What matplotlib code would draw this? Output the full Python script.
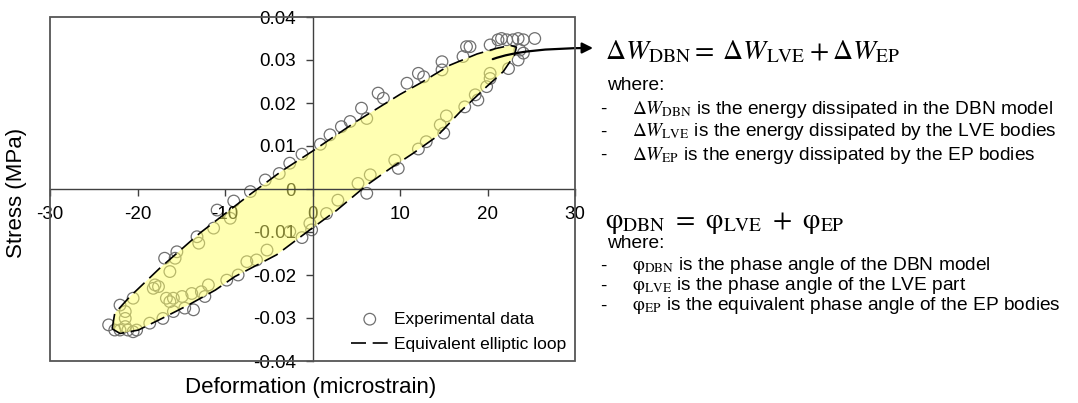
import matplotlib
matplotlib.use("Agg")
import matplotlib.pyplot as plt
from matplotlib.patches import Rectangle

plt.rcParams["font.family"] = ["Liberation Sans", "DejaVu Sans"]
plt.rcParams["mathtext.fontset"] = "stix"
plt.rcParams["axes.unicode_minus"] = False

exp_strain = [
    -23.3, -22.6, -22.0, -21.4, -21.1, -20.5, -20.1, -21.4, -21.4, -22.0,
    -20.5, -18.2, -18.0, -17.6, -16.3, -16.9, -15.7, -15.5, -13.2, -13.0,
    -11.3, -10.9, -9.4, -9.0, -7.1, -5.4, -3.8, -2.6, -1.2, 0.9,
    2.0, 3.3, 4.3, 5.6, 6.2, 7.5, 8.1, 10.8, 12.1, 12.7,
    14.8, 14.8, 17.2, 17.6, 18.0, 20.3, 21.2, 21.6, 22.2, 22.9,
    23.5, 24.1, 25.4, 23.7, 24.1, 23.5, 22.4,
    20.3, 20.3, 19.9, 18.6, 18.9, 17.4, 15.3, 14.6, 15.0, 13.0,
    12.1, 9.4, 9.8, 6.6, 5.2, 6.2, 2.9, 1.6, -0.3, -0.1,
    -1.2, -2.6, -5.2, -6.4, -7.5, -8.5, -9.8, -11.9, -12.7, -12.3,
    -13.8, -14.9, -15.9, -16.3, -16.7, -13.6, -14.6, -15.9, -17.1, -18.6,
]
exp_stress = [
    -0.0316, -0.0328, -0.0328, -0.0320, -0.0328, -0.0332, -0.0328, -0.0301, -0.0285, -0.0270,
    -0.0254, -0.0231, -0.0223, -0.0227, -0.0192, -0.0161, -0.0161, -0.0146, -0.0111, -0.0126,
    -0.0091, -0.0049, -0.0068, -0.0028, -0.0006, 0.0021, 0.0036, 0.0060, 0.0081, 0.0104,
    0.0126, 0.0145, 0.0157, 0.0188, 0.0164, 0.0223, 0.0211, 0.0246, 0.0269, 0.0261,
    0.0296, 0.0277, 0.0308, 0.0331, 0.0331, 0.0335, 0.0347, 0.0350, 0.0347, 0.0347,
    0.0350, 0.0347, 0.0350, 0.0323, 0.0316, 0.0300, 0.0280,
    0.0269, 0.0257, 0.0238, 0.0219, 0.0207, 0.0191, 0.0170, 0.0149, 0.0130, 0.0110,
    0.0093, 0.0067, 0.0048, 0.0033, 0.0013, -0.0010, -0.0026, -0.0057, -0.0080, -0.0095,
    -0.0113, -0.0099, -0.0142, -0.0165, -0.0169, -0.0200, -0.0212, -0.0223, -0.0239, -0.0250,
    -0.0243, -0.0250, -0.0254, -0.0262, -0.0254, -0.0281, -0.0277, -0.0285, -0.0301, -0.0312,
]

# equivalent elliptic loop
loop_strain = [
    -22.9, -22.6, -20.9, -17.5, -12.9, -7.1, -3.5, 0.0, 5.0, 10.0,
    12.3, 15.7, 18.8, 21.0, 22.6, 23.3, 23.1, 21.8, 19.9, 16.9,
    14.2, 11.5, 8.9, 6.2, 2.8, -0.3, -4.1, -8.9, -11.1, -14.2,
    -17.2, -19.9, -22.0, -22.9,
]
loop_stress = [
    -0.0325, -0.0289, -0.0251, -0.0185, -0.0103, -0.0012, 0.0042, 0.0088, 0.0157, 0.0220,
    0.0246, 0.0288, 0.0314, 0.0327, 0.0334, 0.0330, 0.0312, 0.0273, 0.0238, 0.0180,
    0.0122, 0.0083, 0.0048, 0.0009, -0.0049, -0.0095, -0.0153, -0.0204, -0.0235, -0.0270,
    -0.0301, -0.0328, -0.0336, -0.0325,
]

x_ticks = [-30, -20, -10, 0, 10, 20, 30]
y_ticks = [-0.04, -0.03, -0.02, -0.01, 0, 0.01, 0.02, 0.03, 0.04]
y_tick_labels = ["-0.04", "-0.03", "-0.02", "-0.01", "0", "0.01", "0.02", "0.03", "0.04"]

W, H = 1078, 403
fig = plt.figure(figsize=(W / 100, H / 100), dpi=100)
ax = fig.add_axes([50 / W, 1 - 361 / H, 525 / W, 344 / H])

ax.scatter(exp_strain, exp_stress, s=70, facecolors="none", edgecolors="#707070",
           linewidths=0.9, zorder=1, label="Experimental data")
ax.fill(loop_strain, loop_stress, color="#FFFF66", alpha=0.5, lw=0, zorder=2)
ax.plot(loop_strain, loop_stress, color="black", lw=1.2, dashes=(9, 4), zorder=3,
        label="Equivalent elliptic loop")

ax.set_xlim(-30, 30)
ax.set_ylim(-0.04, 0.04)
ax.set_xticks(x_ticks)
ax.set_yticks(y_ticks)
ax.set_yticklabels(y_tick_labels)

for side in ["top", "right"]:
    ax.spines[side].set_visible(False)
for side in ["left", "bottom"]:
    ax.spines[side].set_position(("data", 0))
    ax.spines[side].set_color("#404040")
    ax.spines[side].set_linewidth(1.0)
ax.add_patch(Rectangle((0, 0), 1, 1, transform=ax.transAxes, fill=False,
                       ec="#555555", lw=1.3, clip_on=False, zorder=4))
ax.tick_params(direction="out", length=5, width=1, color="#404040",
               labelsize=13.5, pad=7)

fig.text(17 / W, 1 - 193 / H, "Stress (MPa)", rotation=90, fontsize=16,
         ha="center", va="center")
fig.text(311 / W, 1 - 388 / H, "Deformation (microstrain)", fontsize=16,
         ha="center", va="center")

ax.legend(loc="lower right", bbox_to_anchor=(1.0, 0.0), frameon=False,
          fontsize=12.5, handlelength=2.2, handletextpad=0.3, labelspacing=0.6,
          borderaxespad=0.1)

ax.annotate("", xy=(593 / W, 1 - 48 / H), xycoords="figure fraction",
            xytext=(20.6, 0.0302), textcoords="data",
            arrowprops=dict(arrowstyle="-|>", color="black", lw=1.6, mutation_scale=16,
                            shrinkA=0, shrinkB=0,
                            connectionstyle="angle3,angleA=20,angleB=0"))

# right-hand explanations
body = 13.8
fig.text(605 / W, 1 - 52 / H,
         r"$\Delta W_{\mathrm{DBN}}{=}\;\Delta W_{\mathrm{LVE}} + \Delta W_{\mathrm{EP}}$",
         fontsize=20, va="center")
fig.text(607 / W, 1 - 85 / H, "where:", fontsize=body, va="center")
lines1 = [
    r"$\Delta W_{\mathrm{DBN}}$ is the energy dissipated in the DBN model",
    r"$\Delta W_{\mathrm{LVE}}$ is the energy dissipated by the LVE bodies",
    r"$\Delta W_{\mathrm{EP}}$ is the energy dissipated by the EP bodies",
]
for i, s in enumerate(lines1):
    y = 1 - (109 + 23 * i) / H
    fig.text(600 / W, y, "-", fontsize=body, va="center")
    fig.text(632 / W, y, s, fontsize=body, va="center")

fig.text(605 / W, 1 - 223 / H,
         r"$\mathrm{\varphi}_{\mathrm{DBN}}\ =\ \mathrm{\varphi}_{\mathrm{LVE}}\ +\ \mathrm{\varphi}_{\mathrm{EP}}$",
         fontsize=20, va="center")
fig.text(607 / W, 1 - 243 / H, "where:", fontsize=body, va="center")
lines2 = [
    r"$\mathrm{\varphi}_{\mathrm{DBN}}$ is the phase angle of the DBN model",
    r"$\mathrm{\varphi}_{\mathrm{LVE}}$ is the phase angle of the LVE part",
    r"$\mathrm{\varphi}_{\mathrm{EP}}$ is the equivalent phase angle of the EP bodies",
]
for i, s in enumerate(lines2):
    y = 1 - (266 + 20 * i) / H
    fig.text(600 / W, y, "-", fontsize=body, va="center")
    fig.text(632 / W, y, s, fontsize=body, va="center")

fig.savefig("out.png", dpi=100)
